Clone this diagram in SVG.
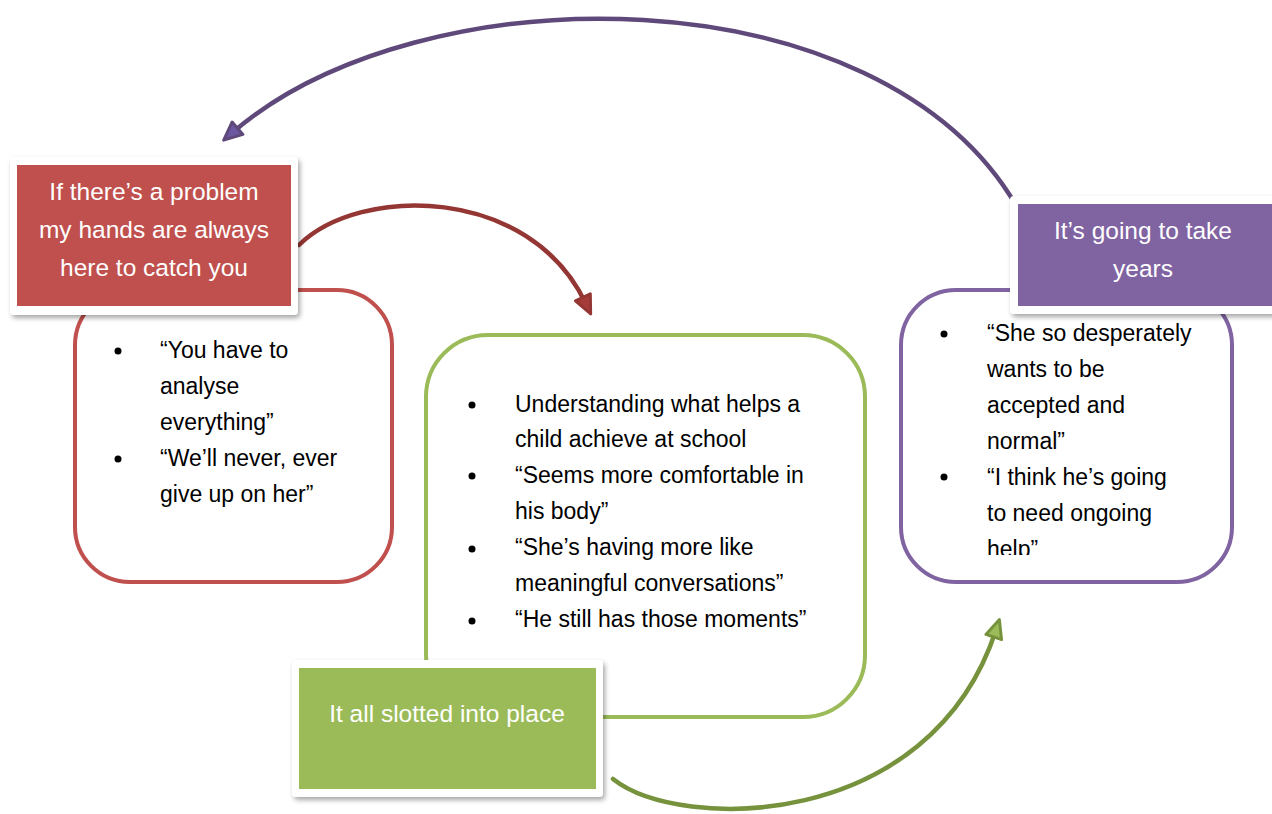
<svg xmlns="http://www.w3.org/2000/svg" width="1272" height="814" viewBox="0 0 1272 814">
  <defs>
    <filter id="shadow" x="-10%" y="-10%" width="125%" height="130%">
      <feDropShadow dx="2" dy="3" stdDeviation="2.5" flood-color="#000" flood-opacity="0.35"/>
    </filter>
    <clipPath id="purpleClip">
      <rect x="900" y="316" width="334" height="239"/>
    </clipPath>
    <marker id="headPurple" viewBox="0 0 12 12" refX="5" refY="6" markerWidth="22" markerHeight="22" markerUnits="userSpaceOnUse" orient="auto">
      <path d="M1,1.5 L11,6 L1,10.5 Z" fill="#6c58a0" stroke="#5f497a" stroke-width="1.6" stroke-linejoin="round"/>
    </marker>
    <marker id="headRed" viewBox="0 0 12 12" refX="5" refY="6" markerWidth="22" markerHeight="22" markerUnits="userSpaceOnUse" orient="auto">
      <path d="M1,1.5 L11,6 L1,10.5 Z" fill="#a63c3a" stroke="#943634" stroke-width="1.6" stroke-linejoin="round"/>
    </marker>
    <marker id="headGreen" viewBox="0 0 12 12" refX="5" refY="6" markerWidth="22" markerHeight="22" markerUnits="userSpaceOnUse" orient="auto">
      <path d="M1,1.5 L11,6 L1,10.5 Z" fill="#9bbb59" stroke="#76923c" stroke-width="1.6" stroke-linejoin="round"/>
    </marker>
  </defs>
  <style>
    .panel { fill: #ffffff; stroke-width: 4; }
    .card { fill: #ffffff; filter: url(#shadow); }
    .title { font-family: "Liberation Sans", Arial, sans-serif; font-size: 24.5px; fill: #ffffff; text-anchor: middle; }
    .body { font-family: "Liberation Sans", Arial, sans-serif; font-size: 23px; fill: #000000; }
    .bullet { fill: #000000; }
    .conn { fill: none; stroke-width: 4.5; stroke-linecap: round; }
  </style>

  <rect width="1272" height="814" fill="#ffffff"/>

  <!-- green panel sits behind the others -->
  <g id="green-panel">
    <rect class="panel" x="426" y="335" width="439" height="382" rx="62" stroke="#9bbb59"/>
    <circle class="bullet" cx="472" cy="405" r="3.5"/>
    <circle class="bullet" cx="472" cy="476" r="3.5"/>
    <circle class="bullet" cx="472" cy="549" r="3.5"/>
    <circle class="bullet" cx="472" cy="621" r="3.5"/>
    <text class="body" x="515" y="412">Understanding what helps a</text>
    <text class="body" x="515" y="447">child achieve at school</text>
    <text class="body" x="515" y="483">“Seems more comfortable in</text>
    <text class="body" x="515" y="519">his body”</text>
    <text class="body" x="515" y="555">“She’s having more like</text>
    <text class="body" x="515" y="591">meaningful conversations”</text>
    <text class="body" x="515" y="627">“He still has those moments”</text>
  </g>

  <g id="red-panel">
    <rect class="panel" x="75" y="290" width="317" height="292" rx="55" stroke="#c0504d"/>
    <circle class="bullet" cx="118" cy="351" r="3.5"/>
    <circle class="bullet" cx="118" cy="459" r="3.5"/>
    <text class="body" x="160" y="358">“You have to</text>
    <text class="body" x="160" y="394">analyse</text>
    <text class="body" x="160" y="430">everything”</text>
    <text class="body" x="160" y="466">“We’ll never, ever</text>
    <text class="body" x="160" y="502">give up on her”</text>
  </g>

  <g id="purple-panel">
    <rect class="panel" x="901" y="290" width="331" height="292" rx="55" stroke="#8064a2"/>
    <circle class="bullet" cx="944" cy="334" r="3.5"/>
    <circle class="bullet" cx="944" cy="477" r="3.5"/>
    <g clip-path="url(#purpleClip)">
      <text class="body" x="987" y="341">“She so desperately</text>
      <text class="body" x="987" y="377">wants to be</text>
      <text class="body" x="987" y="413">accepted and</text>
      <text class="body" x="987" y="449">normal”</text>
      <text class="body" x="987" y="485">“I think he’s going</text>
      <text class="body" x="987" y="521">to need ongoing</text>
      <text class="body" x="987" y="557">help”</text>
    </g>
  </g>

  <g id="connectors">
    <path class="conn" d="M1017,207 C880,-30 420,-30 232,133" stroke="#5f497a" marker-end="url(#headPurple)"/>
    <path class="conn" d="M299,245 C360,185 530,185 586,304" stroke="#943634" marker-end="url(#headRed)"/>
    <path class="conn" d="M613,779 C680,832 930,832 996,630" stroke="#76923c" marker-end="url(#headGreen)"/>
  </g>

  <g id="red-title">
    <rect class="card" x="10" y="157" width="288" height="158" rx="4"/>
    <rect x="17" y="165" width="274" height="141" fill="#c0504d"/>
    <text class="title" x="154" y="200">If there’s a problem</text>
    <text class="title" x="154" y="238">my hands are always</text>
    <text class="title" x="154" y="276">here to catch you</text>
  </g>

  <g id="purple-title">
    <rect class="card" x="1010" y="196" width="266" height="118" rx="4"/>
    <rect x="1018" y="204" width="254" height="102" fill="#8064a2"/>
    <text class="title" x="1143" y="239">It’s going to take</text>
    <text class="title" x="1143" y="277">years</text>
  </g>

  <g id="green-title">
    <rect class="card" x="292" y="660" width="311" height="137" rx="4"/>
    <rect x="299" y="668" width="297" height="121" fill="#9bbb59"/>
    <text class="title" x="447" y="722">It all slotted into place</text>
  </g>
</svg>
